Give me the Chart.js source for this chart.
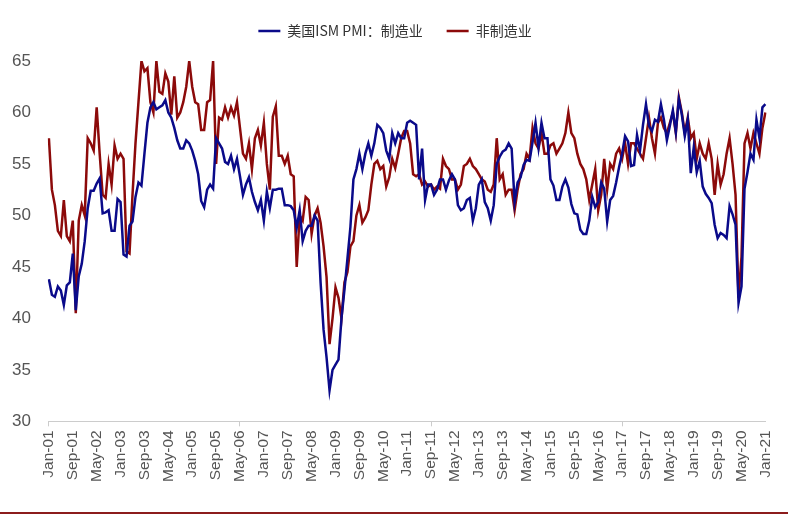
<!DOCTYPE html>
<html>
<head>
<meta charset="utf-8">
<script src="https://cdn.jsdelivr.net/npm/chart.js@4"></script>
<style>
  body { margin: 0; background: #fff; }
  #wrap { position: relative; width: 788px; height: 512px; border-bottom: 2px solid #8c1c1c; }
</style>
</head>
<body>
<div id="wrap"><canvas id="c"></canvas></div>
<script>
// monthly, Jan-01 .. Jan-21
var years = ['01','02','03','04','05','06','07','08','09','10','11','12','13','14','15','16','17','18','19','20','21'];
var months = ['Jan','Feb','Mar','Apr','May','Jun','Jul','Aug','Sep','Oct','Nov','Dec'];

var mfg = [
  43.8,42.3,42.1,43.1,42.7,41.3,43.2,43.5,46.3,40.8,44.1,45.3,
  47.5,50.7,52.4,52.4,53.1,53.6,50.2,50.3,50.5,48.5,48.5,51.6,
  51.3,46.2,46.0,49.0,49.4,51.8,53.2,52.9,56.0,59.0,60.5,61.0,
  60.3,60.5,60.7,61.2,60.0,59.5,58.5,57.3,56.5,56.5,57.3,57.0,
  56.3,55.3,54.0,51.4,50.8,52.5,53.0,52.6,57.5,57.0,56.5,55.2,
  55.0,55.8,54.5,55.5,53.8,52.0,53.0,53.7,52.3,51.3,50.5,51.5,
  49.5,52.3,50.7,52.5,52.5,52.6,52.6,51.0,51.0,50.9,50.5,48.8,
  50.5,47.5,48.5,49.0,49.0,50.0,49.5,43.5,38.9,36.2,33.0,35.0,
  35.5,36.0,40.0,42.8,45.8,48.9,53.5,54.5,56.0,54.5,56.0,57.0,
  55.8,57.0,58.8,58.5,58.0,56.3,55.5,58.0,57.0,58.0,57.5,57.5,
  59.0,59.2,59.0,58.8,53.5,56.5,51.5,53.0,53.0,52.0,52.5,53.5,
  53.5,52.5,53.4,54.0,53.5,51.0,50.5,50.7,51.5,51.7,49.5,50.7,
  53.0,53.5,51.3,50.7,49.5,51.0,55.0,55.7,56.2,56.4,57.0,56.5,
  51.3,53.2,53.7,54.9,55.4,55.3,57.1,59.0,56.6,59.0,57.5,57.5,
  53.5,52.9,51.5,51.5,52.8,53.5,52.7,51.1,50.2,50.1,48.6,48.2,
  48.2,49.5,51.8,50.8,51.3,53.2,52.6,49.4,51.5,51.9,53.2,54.7,
  56.0,57.7,57.2,54.8,54.9,57.8,56.3,58.8,60.8,58.7,58.2,59.3,
  59.1,60.8,59.3,57.3,58.7,60.2,58.1,61.3,59.8,57.7,59.3,54.1,
  56.6,54.2,55.3,52.8,52.1,51.7,51.2,49.1,47.8,48.3,48.1,47.8,
  50.9,50.1,49.1,41.5,43.1,52.6,54.2,56.0,55.4,59.3,57.5,60.5,
  60.8
];

var nonMfg = [
  57.5,52.5,51.0,48.5,48.0,51.5,48.0,47.5,49.5,40.5,49.5,51.0,
  50.0,57.5,57.0,56.3,60.5,56.0,52.0,51.7,55.0,53.0,56.8,55.5,
  56.0,55.5,46.5,46.3,52.0,57.0,61.0,65.0,64.0,64.3,61.0,60.0,
  65.0,62.0,61.8,63.8,63.0,59.8,63.5,59.5,60.0,61.0,62.5,65.0,
  62.5,61.0,60.8,58.3,58.3,61.0,61.2,65.0,55.0,59.5,59.3,60.5,
  59.5,60.5,59.7,61.0,58.5,56.0,55.5,57.0,54.5,57.5,58.3,56.8,
  59.0,55.0,52.5,59.6,60.6,55.8,55.8,55.0,55.8,54.0,53.8,45.0,
  50.0,49.5,51.8,51.5,48.2,50.0,50.7,49.3,47.0,44.0,37.5,40.0,
  43.0,42.0,40.0,43.5,44.5,47.0,47.5,50.0,51.0,49.3,49.8,50.5,
  53.0,55.0,55.3,54.5,54.8,52.8,53.7,55.5,54.6,56.0,57.5,58.2,
  58.2,57.0,54.0,53.8,54.0,53.0,53.3,52.8,53.0,52.5,52.8,52.6,
  55.5,54.8,54.5,53.5,53.5,52.5,53.0,54.8,55.0,55.5,54.8,54.5,
  54.0,53.5,53.3,52.5,52.3,53.0,57.5,53.5,54.0,52.0,52.5,52.5,
  50.5,52.5,54.0,54.5,56.0,55.5,58.5,57.0,56.5,58.0,56.0,56.0,
  56.8,57.0,56.0,56.5,57.0,58.0,60.0,58.0,57.5,56.0,55.0,54.5,
  53.5,51.5,53.0,54.5,50.5,52.0,55.5,52.5,55.0,54.5,56.0,56.5,
  55.5,57.0,55.0,57.0,57.0,56.5,56.0,55.5,57.5,59.5,57.5,56.0,
  59.0,59.5,58.5,58.0,59.0,60.0,58.0,61.5,60.0,58.0,59.5,57.5,
  58.0,55.5,57.0,56.0,55.5,57.0,55.5,52.0,55.0,53.0,54.0,56.0,
  57.5,55.0,52.0,42.0,46.0,57.0,58.0,56.5,58.0,57.0,56.0,58.5,
  60.0
];

var seriesNames = ['美国ISM PMI：制造业', '非制造业'];

var labels = [];
years.forEach(function(y) {
    months.forEach(function(m) { labels.push(m + '-' + y); });
});
labels = labels.slice(0, mfg.length);

var font = "'Liberation Sans', Arial, sans-serif";

// extra room under the legend
var legendGap = {
    id: 'legendGap',
    beforeInit: function(chart) {
        var fit = chart.legend.fit;
        chart.legend.fit = function() { fit.call(this); this.height += 13; };
    }
};

new Chart(document.getElementById('c').getContext('2d'), {
    type: 'line',
    data: {
        labels: labels,
        datasets: [
            { label: seriesNames[0], data: mfg, borderColor: '#0a0a8a', borderWidth: 2.5, pointRadius: 0, tension: 0 },
            { label: seriesNames[1], data: nonMfg, borderColor: '#8c0a0a', borderWidth: 2.5, pointRadius: 0, tension: 0 }
        ]
    },
    plugins: [legendGap],
    options: {
        responsive: true, maintainAspectRatio: false, animation: false,
        layout: { padding: { left: 2, right: 0, top: 0, bottom: 26 } },
        plugins: {
            legend: {
                labels: {
                    boxWidth: 22, boxHeight: 0, color: '#333', padding: 24,
                    font: { family: "'Noto Sans CJK SC', " + font, size: 14 }
                }
            },
            tooltip: { enabled: false }
        },
        scales: {
            y: {
                min: 30, max: 65,
                grid: { display: false },
                border: { display: false },
                ticks: { stepSize: 5, padding: 10, color: '#555', font: { family: font, size: 17 } }
            },
            x: {
                grid: {
                    drawOnChartArea: false, tickLength: 5,
                    color: function(c) { return c.index % 8 === 0 ? '#ccc' : 'rgba(0,0,0,0)'; }
                },
                border: { color: '#ccc' },
                ticks: {
                    autoSkip: false, maxRotation: 90, minRotation: 90, color: '#555', padding: 4,
                    font: { family: font, size: 15.5 },
                    callback: function(v, i) { return i % 8 === 0 ? labels[i] : null; }
                }
            }
        }
    }
});
</script>
</body>
</html>
